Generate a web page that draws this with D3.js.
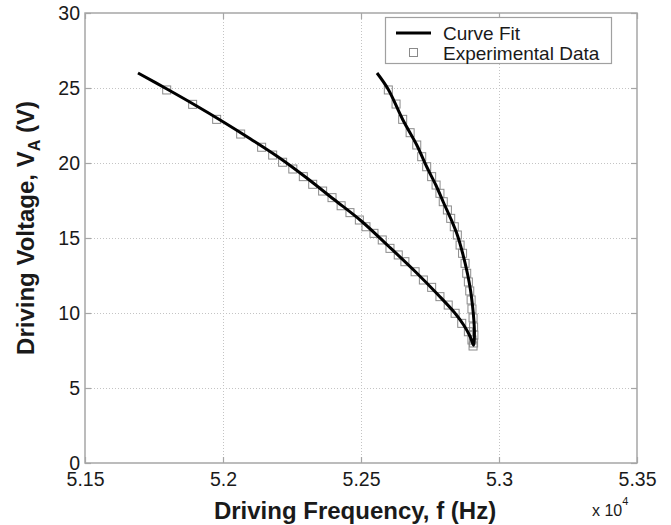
<!DOCTYPE html>
<html>
<head>
<meta charset="utf-8">
<script src="https://cdn.jsdelivr.net/npm/d3@7"></script>
<style>
	body { margin: 0; background: #fff; }
	svg text { font-family: "Liberation Sans", Arial, sans-serif; fill: #1a1a1a; }
</style>
</head>
<body>
<svg id="chart" width="671" height="525"></svg>
<script>
// frequency values in units of 1e4 Hz
var xTicks = [5.15, 5.2, 5.25, 5.3, 5.35];
var yTicks = [0, 5, 10, 15, 20, 25, 30];

// curve fit, in path order: lower branch to the tip, then back up the upper branch
var fitF = [5.1692, 5.180, 5.190, 5.200, 5.210, 5.220, 5.230, 5.240, 5.250, 5.260, 5.270, 5.278, 5.2840, 5.2872, 5.2895, 5.2908,
	5.2911, 5.2909, 5.2904, 5.2897, 5.2886, 5.2868, 5.2849, 5.2825, 5.2798, 5.2772, 5.2738, 5.2702, 5.2651, 5.2599, 5.2558];
var fitV = [26.0, 24.9, 23.85, 22.75, 21.6, 20.4, 19.05, 17.6, 16.15, 14.45, 12.7, 11.2, 10.0, 9.2, 8.45, 7.85,
	8.6, 9.5, 10.5, 11.5, 12.6, 14.0, 15.2, 16.3, 17.4, 18.5, 19.75, 21.2, 22.9, 24.9, 26.0];

// experimental data, lower branch
var lowF = [5.1796, 5.1890, 5.1977, 5.2064, 5.2140, 5.2180, 5.2216, 5.2253, 5.2291, 5.2325, 5.2361, 5.2395, 5.2428, 5.2460,
	5.2494, 5.2518, 5.2547, 5.2577, 5.2605, 5.2635, 5.2659, 5.2696, 5.2726, 5.2756, 5.2786, 5.2816, 5.2841, 5.2865, 5.2889, 5.2902, 5.2906];
var lowV = [24.87, 23.91, 22.91, 21.93, 21.05, 20.53, 20.05, 19.6, 19.09, 18.58, 18.13, 17.69, 17.15, 16.69,
	16.2, 15.75, 15.31, 14.87, 14.31, 13.87, 13.42, 12.75, 12.2, 11.71, 11.09, 10.53, 9.98, 9.31, 8.75, 8.2, 7.8];
// experimental data, upper branch
var upF = [5.2599, 5.2627, 5.2651, 5.2678, 5.2702, 5.2720, 5.2738, 5.2756, 5.2772, 5.2786, 5.2798, 5.2813, 5.2825, 5.2838,
	5.2849, 5.2859, 5.2868, 5.2877, 5.2883, 5.2889, 5.2894, 5.2899, 5.2902, 5.2906, 5.2908, 5.2909, 5.2908];
var upV = [24.87, 23.93, 22.91, 22.02, 21.2, 20.42, 19.75, 19.09, 18.53, 17.98, 17.42, 16.87, 16.31, 15.75,
	15.2, 14.53, 13.98, 13.31, 12.65, 12.07, 11.47, 10.87, 10.27, 9.67, 9.07, 8.53, 8.0];

+function(){
	var svg = d3.select('#chart');
	var pLeft = 85, pRight = 637, pTop = 13, pBottom = 463;

	var x = d3.scaleLinear().domain([5.15, 5.35]).range([pLeft, pRight]);
	var y = d3.scaleLinear().domain([0, 30]).range([pBottom, pTop]);

	// grid
	var grid = svg.append('g').attr('stroke', '#c4c4c4').attr('stroke-width', 1).attr('stroke-dasharray', '1,2');
	grid.selectAll('.gx').data(xTicks.slice(1, -1)).enter().append('line')
		.attr('x1', function(d){ return Math.round(x(d)) + 0.5; }).attr('x2', function(d){ return Math.round(x(d)) + 0.5; })
		.attr('y1', pTop).attr('y2', pBottom);
	grid.selectAll('.gy').data(yTicks.slice(1, -1)).enter().append('line')
		.attr('y1', function(d){ return Math.round(y(d)) + 0.5; }).attr('y2', function(d){ return Math.round(y(d)) + 0.5; })
		.attr('x1', pLeft).attr('x2', pRight);

	// axes (ticks inside, box on)
	var axisColor = '#a6a6a6';
	function styleAxis(g){
		g.select('.domain').remove();
		g.selectAll('.tick line').attr('stroke', axisColor).attr('stroke-width', 1.2);
		g.selectAll('.tick text').style('font-size', '19.5px').attr('fill', '#1a1a1a');
	}
	svg.append('g').attr('transform', 'translate(0,' + pBottom + ')')
		.call(d3.axisBottom(x).tickValues(xTicks).tickSize(-6).tickPadding(9).tickFormat(d3.format('')))
		.call(styleAxis);
	svg.append('g').attr('transform', 'translate(' + pLeft + ',0)')
		.call(d3.axisLeft(y).tickValues(yTicks).tickSize(-6).tickPadding(5))
		.call(styleAxis);
	svg.append('g').attr('transform', 'translate(0,' + pTop + ')')
		.call(d3.axisTop(x).tickValues(xTicks).tickSize(-6).tickFormat(''))
		.call(styleAxis);
	svg.append('g').attr('transform', 'translate(' + pRight + ',0)')
		.call(d3.axisRight(y).tickValues(yTicks).tickSize(-6).tickFormat(''))
		.call(styleAxis);
	svg.append('rect').attr('x', pLeft).attr('y', pTop).attr('width', pRight - pLeft).attr('height', pBottom - pTop)
		.attr('fill', 'none').attr('stroke', axisColor).attr('stroke-width', 1.5);

	// experimental data squares
	var pts = lowF.map(function(f, i){ return [f, lowV[i]]; })
		.concat(upF.map(function(f, i){ return [f, upV[i]]; }));
	svg.append('g').selectAll('rect').data(pts).enter().append('rect')
		.attr('x', function(d){ return x(d[0]) - 4; })
		.attr('y', function(d){ return y(d[1]) - 4; })
		.attr('width', 8).attr('height', 8)
		.attr('fill', 'none').attr('stroke', '#8a8a8a').attr('stroke-width', 1);

	// curve fit
	var line = d3.line()
		.x(function(d){ return x(d[0]); })
		.y(function(d){ return y(d[1]); })
		.curve(d3.curveCatmullRom.alpha(0.5));
	svg.append('path').datum(fitF.map(function(f, i){ return [f, fitV[i]]; }))
		.attr('d', line).attr('fill', 'none').attr('stroke', '#000').attr('stroke-width', 3)
		.attr('stroke-linejoin', 'round');

	// legend
	var lg = svg.append('g');
	lg.append('rect').attr('x', 385.5).attr('y', 17.5).attr('width', 226).attr('height', 46)
		.attr('fill', '#fff').attr('stroke', '#a0a0a0').attr('stroke-width', 1.2);
	lg.append('line').attr('x1', 396).attr('x2', 431).attr('y1', 33).attr('y2', 33)
		.attr('stroke', '#000').attr('stroke-width', 3);
	lg.append('text').attr('x', 443).attr('y', 40).style('font-size', '19px').text('Curve Fit');
	lg.append('rect').attr('x', 409.5).attr('y', 48.5).attr('width', 8).attr('height', 8)
		.attr('fill', 'none').attr('stroke', '#8a8a8a');
	lg.append('text').attr('x', 443).attr('y', 60).style('font-size', '19px').text('Experimental Data');

	// axis labels
	svg.append('text').attr('x', 355).attr('y', 519).attr('text-anchor', 'middle')
		.style('font-size', '24px').style('font-weight', 'bold').text('Driving Frequency, f (Hz)');

	var xm = svg.append('text').attr('x', 592).attr('y', 516).style('font-size', '16px');
	xm.append('tspan').text('x 10');
	xm.append('tspan').attr('dy', -11).style('font-size', '11px').text('4');

	var yl = svg.append('text').attr('transform', 'translate(34,228) rotate(-90)').attr('text-anchor', 'middle')
		.style('font-size', '24px').style('font-weight', 'bold');
	yl.append('tspan').text('Driving Voltage, V');
	yl.append('tspan').attr('dy', 6).style('font-size', '16px').text('A');
	yl.append('tspan').attr('dy', -6).text(' (V)');
}();
</script>
</body>
</html>
